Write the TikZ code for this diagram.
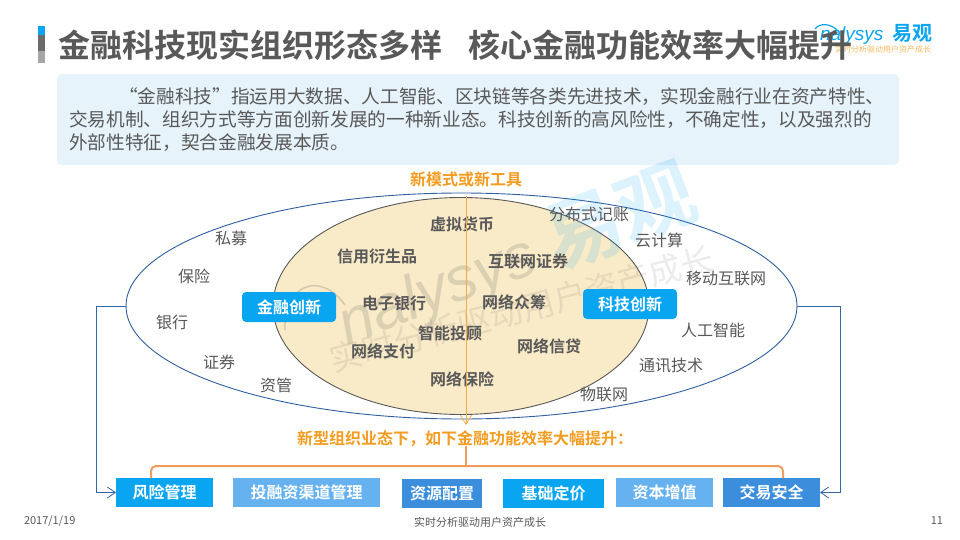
\documentclass[tikz,border=0pt]{standalone}
\usepackage{fontspec}
\usetikzlibrary{shapes.geometric,arrows.meta}
\setmainfont{Noto Sans CJK SC}[BoldFont={Noto Sans CJK SC Bold}]
\newfontfamily\logofont{Liberation Sans}
\definecolor{txt}{HTML}{595959}
\definecolor{panel}{HTML}{E6F3FB}
\definecolor{beige}{HTML}{FAEBC8}
\definecolor{wire}{HTML}{2F66AE}
\definecolor{oval}{HTML}{2F5F9F}
\definecolor{amber}{HTML}{F39C1F}
\definecolor{brace}{HTML}{EE9D5C}
\definecolor{cyanbox}{HTML}{0AA5F0}
\definecolor{skybox}{HTML}{66B2F0}
\definecolor{midbox}{HTML}{3A8EDC}
\tikzset{
  x=1pt,y=-1pt,
  every node/.style={inner sep=0pt,outer sep=0pt,text=txt,font=\fontsize{16}{18}\selectfont},
  strong/.style={font=\fontsize{16}{18}\selectfont\bfseries},
  tag/.style={fill=cyanbox,rounded corners=4pt,minimum width=94pt,minimum height=30pt,text=white,font=\fontsize{16}{18}\selectfont\bfseries},
  fnbox/.style={minimum height=29pt,text=white,font=\fontsize{16}{18}\selectfont\bfseries},
  note/.style={text=amber,font=\fontsize{16}{18}\selectfont\bfseries},
  link/.style={draw=wire,line width=0.9pt,-{Straight Barb[length=8pt,width=11pt,line width=0.8pt]}},
  bodyline/.style={anchor=west,font=\fontsize{18.67}{22}\selectfont},
  foot/.style={font=\fontsize{11}{12}\selectfont},
}
\begin{document}
\begin{tikzpicture}
\useasboundingbox (0,0) rectangle (960,540);
\fill[white] (0,0) rectangle (960,540);
% title bar
\fill[fill=cyanbox] (38,26) rectangle (45,35);
\fill[fill=black!58] (38,35) rectangle (45,51);
\fill[fill=black!35] (38,51) rectangle (45,63);
% top logo
\draw[cyanbox,line width=1.2pt] (815,29) .. controls (820,22) and (832,24) .. (838,31);
\node[text=cyanbox,anchor=west,font=\fontsize{19}{20}\logofont\itshape] (logotxt) at (820,36) {nalysys};
\node[text=cyanbox,anchor=west,font=\fontsize{20}{22}\selectfont\bfseries] (logocn) at (892,33) {易观};
\node[text=amber!70,anchor=west,font=\fontsize{8}{9}\selectfont] (logosub) at (835,49) {实时分析驱动用户资产成长};
% title
\node[anchor=west,font=\fontsize{32}{36}\selectfont\bfseries] (title) at (58,45) {金融科技现实组织形态多样\hspace{27pt}核心金融功能效率大幅提升};
% text panel
\node[fill=panel,rounded corners=5pt,minimum width=842pt,minimum height=91pt] (panelbox) at (478,119.5) {};
\node[bodyline] (l1) at (119,97) {“金融科技”指运用大数据、人工智能、区块链等各类先进技术，实现金融行业在资产特性、};
\node[bodyline] (l2) at (69,120) {交易机制、组织方式等方面创新发展的一种新业态。科技创新的高风险性，不确定性，以及强烈的};
\node[bodyline] (l3) at (69,143) {外部性特征，契合金融发展本质。};
% ellipses
\node[ellipse,draw=oval,line width=0.9pt,minimum width=671pt,minimum height=226pt] (outer) at (461.5,306) {};
\node[ellipse,draw=black!65,fill=beige,line width=0.9pt,minimum width=376pt,minimum height=217pt] (inner) at (461,306) {};
% watermark
\draw[black!60,opacity=0.25,line width=1.5pt] (285,330) .. controls (283,285) and (320,270) .. (345,305);
\node[text=black!70,opacity=0.17,rotate=21,font=\fontsize{62}{64}\logofont\itshape] (wmlatin) at (438,293) {nalysys};
\node[text=cyanbox,opacity=0.14,rotate=21,font=\fontsize{78}{80}\selectfont\bfseries] (wmcn) at (620,217) {易观};
\node[text=black!70,opacity=0.11,rotate=15,font=\fontsize{33}{35}\selectfont] (wmsub) at (522,309) {实时分析驱动用户资产成长};
% outer labels
\node (a1) at (231,238) {私募};
\node (a2) at (194,276) {保险};
\node (a3) at (172,322) {银行};
\node (a4) at (219,362) {证券};
\node (a5) at (276,385) {资管};
\node (c1) at (589,214) {分布式记账};
\node (c2) at (659,240) {云计算};
\node (c3) at (726,278) {移动互联网};
\node (c4) at (713,330) {人工智能};
\node (c5) at (671,366) {通讯技术};
\node (c6) at (604,394) {物联网};
% inner labels
\node[strong] (b1) at (462,224) {虚拟货币};
\node[strong] (b2) at (377,256) {信用衍生品};
\node[strong] (b3) at (528,261) {互联网证券};
\node[strong] (b4) at (394,303) {电子银行};
\node[strong] (b5) at (514,302) {网络众筹};
\node[strong] (b6) at (450,333) {智能投顾};
\node[strong] (b7) at (383,351) {网络支付};
\node[strong] (b8) at (549,346) {网络信贷};
\node[strong] (b9) at (462,379) {网络保险};
\node[tag] (fin) at (289,307) {金融创新};
\node[tag] (tech) at (630,304) {科技创新};
% notes and axis
\node[note] (topnote) at (466,179) {新模式或新工具};
\node[note] (botnote) at (465,439) {新型组织业态下，如下金融功能效率大幅提升：};
\coordinate (axisfoot) at (466,425);
\coordinate (axishead) at (466,196);
\draw[draw=amber!85,line width=1pt,-{Straight Barb[length=9pt,width=11pt,line width=0.8pt]}] (axishead) -- (axisfoot);
% function boxes
\node[fnbox,fill=cyanbox,minimum width=97pt] (f1) at (164.5,492.5) {风险管理};
\node[fnbox,fill=skybox,minimum width=147pt] (f2) at (306.5,492.5) {投融资渠道管理};
\node[fnbox,fill=midbox,minimum width=80pt] (f3) at (442,493.5) {资源配置};
\node[fnbox,fill=cyanbox,minimum width=101pt] (f4) at (553.5,493.5) {基础定价};
\node[fnbox,fill=skybox,minimum width=97pt] (f5) at (664.5,492.5) {资本增值};
\node[fnbox,fill=midbox,minimum width=97pt] (f6) at (771.5,492.5) {交易安全};
% brace
\coordinate (bl) at (151,478);
\coordinate (br) at (783,478);
\coordinate (bm) at (466,446);
\draw[draw=brace,line width=2pt,rounded corners=5pt] (bl) |- (466,466) -- (br |- 466,466) -- (br);
\draw[draw=brace,line width=2pt] (bm) -- (466,466);
% side connectors
\draw[link] (outer.west) -- (96.5,306) |- (f1.west);
\draw[link] (outer.east) -- (840.5,306) |- (f6.east);
% footer
\node[foot,anchor=west] (date) at (24,521) {2017/1/19};
\node[foot] (slogan) at (480,522) {实时分析驱动用户资产成长};
\node[foot,anchor=east] (page) at (943,521) {11};
\end{tikzpicture}
\end{document}
